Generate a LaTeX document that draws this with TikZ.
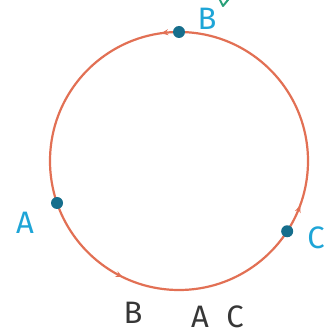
\documentclass[tikz,border=0pt]{standalone}
\usepackage{fontspec}
\setmainfont{Fira Sans}
\usetikzlibrary{decorations.markings,arrows.meta,calc}
\definecolor{ringred}{RGB}{226,112,84}
\definecolor{dotteal}{RGB}{22,110,140}
\definecolor{labblue}{RGB}{30,165,215}
\definecolor{labgrey}{RGB}{55,55,55}
\definecolor{tickgreen}{RGB}{40,160,120}
\tikzset{
  ring/.style={draw=ringred, line width=2.2pt},
  pt/.style={circle, fill=dotteal, inner sep=0pt, minimum size=12pt},
  bluelab/.style={text=labblue, font=\fontsize{31}{31}\selectfont, inner sep=0pt},
  greylab/.style={text=labgrey, font=\fontsize{31}{31}\selectfont, inner sep=0pt},
  dirtip/.style={decorate, decoration={markings,
     mark=at position 0.272 with {\arrow{Stealth[length=7pt,width=6pt]}},
     mark=at position 0.678 with {\arrow{Stealth[length=7pt,width=6pt]}},
     mark=at position 0.944 with {\arrow{Stealth[length=7pt,width=6pt]}}}}
}
\begin{document}
\begin{tikzpicture}[x=1pt,y=1pt]
\useasboundingbox (0,0) rectangle (324,335);
\clip (0,0) rectangle (324,335);
\fill[white] (0,0) rectangle (324,335);
\coordinate (c) at (179,174);
\draw[ring, postaction={dirtip, draw=ringred, fill=ringred}] (c) circle[radius=129];
\node[pt] (B) at ($(c)+(90:129)$) {};
\node[pt] (A) at ($(c)+(199:129)$) {};
\node[pt] (C) at ($(c)+(-33:129)$) {};
\node[bluelab] (lB) at (207,316) {B};
\node[bluelab] (lA) at (25,112) {A};
\node[bluelab] (lC) at (316,97) {C};
\coordinate (t1) at (219,337);
\coordinate (t2) at (223,329);
\coordinate (t3) at (232,340);
\draw[tickgreen, line width=2pt, line cap=round, line join=round] (t1) -- (t2) -- (t3);
\node[greylab] (bB) at (133,22) {B};
\node[greylab] (bA) at (200,18) {A};
\node[greylab] (bC) at (235,18) {C};
\end{tikzpicture}
\end{document}
